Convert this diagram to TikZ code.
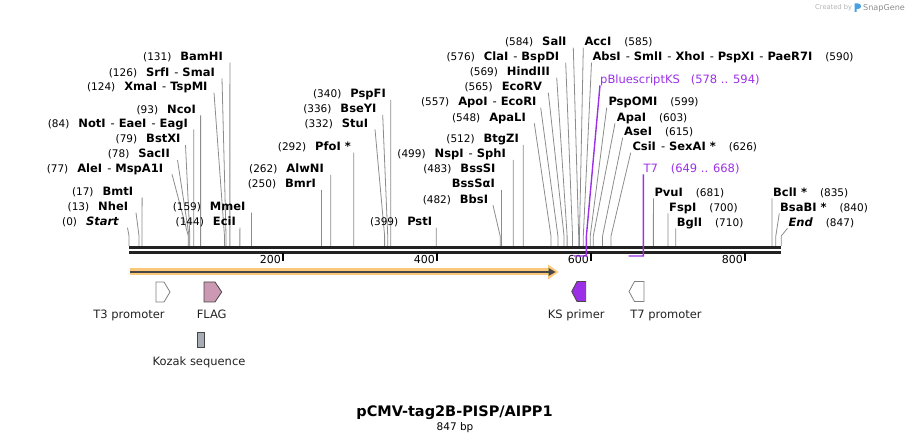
\documentclass[tikz,border=0pt]{standalone}
\usepackage{fontspec}
\setmainfont{DejaVu Sans}
\usepackage{xcolor}
\usepackage{tikz}

\definecolor{kspurple}{RGB}{155,48,230}
\definecolor{cutgray}{RGB}{140,140,140}
\definecolor{flagpink}{RGB}{204,153,180}
\definecolor{kozakgray}{RGB}{168,172,180}
\definecolor{orfband}{RGB}{250,200,120}
\definecolor{orfdark}{RGB}{70,70,70}
\definecolor{barblack}{RGB}{34,34,34}
\definecolor{sgblue}{RGB}{70,160,225}

% number in front of / behind an enzyme name
\newcommand{\cutnum}[1]{{\fontsize{10.5}{12}\selectfont\mdseries(#1)}}
% separator between enzymes cutting at the same site
\newcommand{\enzsep}{\hspace{5pt}{\mdseries-}\hspace{4pt}}

\begin{document}
\begin{tikzpicture}[x=1pt,y=-1pt,
    enz/.style={font=\fontsize{11.5}{12}\selectfont\bfseries, inner sep=0pt, text=black},
    cutline/.style={draw=cutgray, line width=0.8pt},
    featline/.style={draw=kspurple, line width=1.4pt},
    feattext/.style={font=\fontsize{11.5}{13}\selectfont, inner sep=0pt, text=kspurple},
    glyphlabel/.style={font=\fontsize{11.5}{13}\selectfont, inner sep=0pt, text=barblack},
    tickmark/.style={draw=black, line width=2pt},
    ticklabel/.style={font=\fontsize{11}{12}\selectfont, inner sep=0pt}]
        \useasboundingbox (0,0) rectangle (912,443);

        % Sequence bar (847 bp, 0.77 pt per bp, starts at x=129)
        \draw[barblack, line width=3.2pt] (129,247.4) -- (781.2,247.4);
        \draw[barblack, line width=3.2pt] (129,252.4) -- (781.2,252.4);

        % Ticks
        \foreach \t in {200,400,600,800} {
            \draw[tickmark] (129+0.77*\t,253) -- (129+0.77*\t,261);
            \node[ticklabel, anchor=base east] (tl\t) at (127+0.77*\t,263.5) {\t};
        }

        % Enzymes with labels on the left of their line
        \foreach \id/\ps/\lx/\ly/\sx/\txt in {
            start/0/119.3/221.7/127.5/\textit{Start},
            nhe/13/128.3/206.7/136/NheI,
            bmt/17/133.3/191.7/142.1/BmtI,
            ale/77/163.3/168.3/172/AleI\enzsep MspA1I,
            sac/78/170/154/177.5/SacII,
            bstx/79/180.7/139/185.5/BstXI,
            nott/84/188/123.3/193.7/NotI\enzsep EaeI\enzsep EagI,
            nco/93/196/109.3/200.6/NcoI,
            xma/124/207.7/86.7/214/XmaI\enzsep TspMI,
            srf/126/215/72.3/222/SrfI\enzsep SmaI,
            bam/131/223/56.7/229.9/BamHI,
            eci/144/236/221.7/239.9/EciI,
            mme/159/245.7/206.7/251.4/MmeI,
            bmr/250/316/184/321.5/BmrI,
            alwn/262/324/169/330.7/AlwNI,
            pfo/292/351/146.7/353.8/PfoI *,
            stu/332/368.3/123.3/375/StuI,
            bsey/336/376.7/109/382.7/BseYI,
            pspf/340/386/94/390.8/PspFI,
            pst/399/432.3/221.7/436.2/PstI,
            bbs/482/488.3/199.3/493/BbsI,
            nsp/499/506/154/513.2/NspI\enzsep SphI,
            btgz/512/519/139/523.2/BtgZI,
            apal/548/526/117.3/534.3/ApaLI,
            apo/557/536.7/101.7/540.7/ApoI\enzsep EcoRI,
            ecorv/565/542.3/86.7/548.3/EcoRV,
            hind/569/550/71.7/556.7/HindIII,
            cla/576/559.3/56.7/565.7/ClaI\enzsep BspDI,
            sal/584/566.7/41.7/573.3/SalI} {
            \node[enz, anchor=base east] (\id) at (\lx,\ly+4) {\cutnum{\ps}\hspace{9pt}\txt};
            \path (\id.base east) ++(\sx-\lx,2) coordinate (\id-s);
            \coordinate (\id-b) at (129+0.77*\ps,236);
            \coordinate (\id-c) at (129+0.77*\ps,246);
            \draw[cutline] (\id-s) -- (\id-b) -- (\id-c);
        }

        % BssSI and BssSaI share one line
        \node[enz, anchor=base east] (bsss) at (495.7,172.3) {\cutnum{483}\hspace{9pt}BssSI};
        \node[enz, anchor=base east] (bsssa) at (495,188) {BssSαI};
        \coordinate (bsssa-s) at (500.9,190);
        \coordinate (bsssa-c) at (500.9,246);
        \draw[cutline] (bsssa-s) -- (bsssa-c);

        % Enzymes with labels on the right of their line
        \foreach \id/\ps/\lx/\ly/\sx/\txt in {
            acc/585/584.3/41.7/583.3/AccI,
            abs/590/592.3/56.7/591.5/AbsI\enzsep SmlI\enzsep XhoI\enzsep PspXI\enzsep PaeR7I,
            pspo/599/608.3/101.7/606.7/PspOMI,
            apai/603/616.7/117.3/615/ApaI,
            ase/615/624/131.7/622.7/AseI,
            csi/626/632.3/146.7/630.7/CsiI\enzsep SexAI *,
            pvu/681/654.3/192.3/653.4/PvuI,
            fsp/700/669/207.3/668/FspI,
            bgl/710/676.7/222.3/675.7/BglI,
            bcl/835/773/192.3/772/BclI *,
            bsab/840/780/207.3/779.3/BsaBI *,
            endd/847/788.3/222.3/787.5/\textit{End}} {
            \node[enz, anchor=base west] (\id) at (\lx,\ly+4) {\txt\hspace{13pt}\cutnum{\ps}};
            \path (\id.base west) ++(\sx-\lx,2) coordinate (\id-s);
            \coordinate (\id-b) at (129+0.77*\ps,236);
            \coordinate (\id-c) at (129+0.77*\ps,246);
            \draw[cutline] (\id-s) -- (\id-b) -- (\id-c);
        }

        % Purple features
        \node[feattext, anchor=base west] (pbks) at (600,83.3) {pBluescriptKS\hspace{11pt}(578 .. 594)};
        \coordinate (pbks-b) at (586.4,236);
        \coordinate (pbks-c) at (586.4,256);
        \coordinate (pbks-e) at (574.1,256);
        \draw[featline] (pbks.base west) ++(0,2) -- (pbks-b) -- (pbks-c) -- (pbks-e);

        \node[feattext, anchor=base west] (tseven) at (643.3,172.3) {T7\hspace{13pt}(649 .. 668)};
        \coordinate (tseven-c) at (643.4,256);
        \coordinate (tseven-e) at (628.7,256);
        \draw[featline] (tseven.base west) ++(0.1,2) -- (tseven-c) -- (tseven-e);

        % Orange feature arrow
        \fill[orfband] (129.5,268.5) rectangle (551,275.5);
        \fill[orfband] (548,264.5) -- (558.5,272) -- (548,279.5) -- cycle;
        \draw[orfdark, line width=2pt] (130,272) -- (549,272);
        \fill[orfdark] (548.5,268) -- (555.5,272) -- (548.5,276) -- cycle;

        % Feature glyphs
        \draw[gray, line width=0.8pt, fill=white] (156,282) -- (164,282) -- (170,292) -- (164,302) -- (156,302) -- cycle;
        \draw[orfdark, line width=0.8pt, fill=flagpink] (204,282) -- (215,282) -- (221.7,292) -- (215,302) -- (204,302) -- cycle;
        \draw[orfdark, line width=0.8pt, fill=kozakgray] (197.3,332.3) rectangle (204.3,347.7);
        \draw[orfdark, line width=0.8pt, fill=kspurple] (585.7,281.5) -- (577,281.5) -- (571.7,291.5) -- (577,301.5) -- (585.7,301.5) -- cycle;
        \draw[gray, line width=0.8pt, fill=white] (644,281.5) -- (634.5,281.5) -- (629,291.5) -- (634.5,301.5) -- (644,301.5) -- cycle;

        % Glyph labels
        \node[glyphlabel, anchor=base] (tthree) at (129,319) {T3 promoter};
        \node[glyphlabel, anchor=base] (flag) at (211.7,319) {FLAG};
        \node[glyphlabel, anchor=base] (kozak) at (199,365.7) {Kozak sequence};
        \node[glyphlabel, anchor=base] (ksprimer) at (576.3,318.3) {KS primer};
        \node[glyphlabel, anchor=base] (tsevenp) at (666,318.3) {T7 promoter};

        % Title
        \node[font=\fontsize{14.5}{16}\selectfont\bfseries, inner sep=0pt, anchor=base] (title) at (454.5,416) {pCMV-tag2B-PISP/AIPP1};
        \node[font=\fontsize{10.5}{12}\selectfont, inner sep=0pt, anchor=base] (size) at (455,430) {847 bp};

        % Created by SnapGene
        \node[font=\fontsize{6.7}{8}\selectfont, text=black!30, inner sep=0pt, anchor=base west] (created) at (815,9.5) {Created by};
        \fill[sgblue] (854.5,3.5) -- (858,3.5) .. controls (862,3.5) and (862,9) .. (858,9) -- (856.5,9) -- (856.5,12) -- (854.5,12) -- cycle;
        \node[font=\fontsize{8.1}{9}\selectfont, text=black!45, inner sep=0pt, anchor=base west] (snapgene) at (863,10.5) {SnapGene};

    \end{tikzpicture}
\end{document}
